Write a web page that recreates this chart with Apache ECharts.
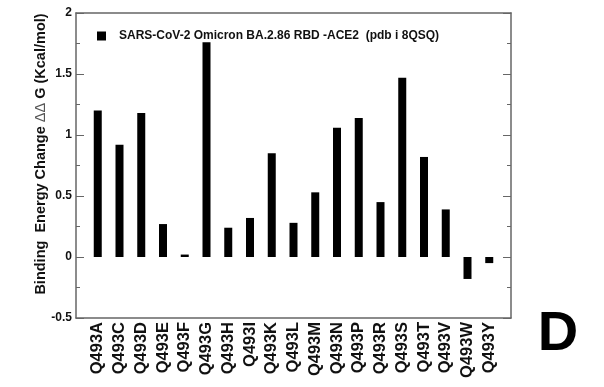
<!DOCTYPE html>
<html><head><meta charset="utf-8">
<script src="https://cdn.jsdelivr.net/npm/echarts@6/dist/echarts.min.js"></script>
<style>html,body{margin:0;padding:0;background:#fff}#c{width:604px;height:387px}</style>
</head><body><div id="c"></div>
<script>
var categories = ['Q493A','Q493C','Q493D','Q493E','Q493F','Q493G','Q493H','Q493I','Q493K','Q493L','Q493M','Q493N','Q493P','Q493R','Q493S','Q493T','Q493V','Q493W','Q493Y'];
var ddG = [1.20,0.92,1.18,0.27,0.02,1.76,0.24,0.32,0.85,0.28,0.53,1.06,1.14,0.45,1.47,0.82,0.39,-0.18,-0.05];
var yTicks = { min: -0.5, max: 2, interval: 0.5 };
var legendName = 'SARS-CoV-2 Omicron BA.2.86 RBD -ACE2  (pdb i 8QSQ)';

var chart = echarts.init(document.getElementById('c'), null, {renderer:'canvas'});
var font = 'Liberation Sans, Arial, sans-serif';
var axisColor = '#666';
chart.setOption({
  animation: false,
  grid: { left: 76, top: 13, right: 93, bottom: 69, containLabel: false },
  legend: {
    left: 92, top: 25, icon: 'rect', itemWidth: 9, itemHeight: 9,
    data: [legendName],
    textStyle: { fontFamily: font, fontWeight: 'bold', fontSize: 12, color: '#111', padding: [0,0,0,8] }
  },
  xAxis: [{
    type: 'value', min: 0, max: categories.length + 1, interval: 1,
    axisLine: { show: true, onZero: false, lineStyle: { color: axisColor, width: 1.5 } },
    axisTick: { show: false },
    splitLine: { show: false },
    axisLabel: {
      rotate: 90, margin: 4, fontFamily: font, fontWeight: 'bold', fontSize: 16.5, color: '#111',
      formatter: function (v) { return categories[v - 1] || ''; }
    }
  }, {
    type: 'value', position: 'top', min: 0, max: categories.length + 1,
    axisLine: { show: true, onZero: false, lineStyle: { color: axisColor, width: 1.5 } },
    axisTick: { show: false }, axisLabel: { show: false }, splitLine: { show: false }
  }],
  yAxis: [{
    type: 'value', min: yTicks.min, max: yTicks.max, interval: yTicks.interval,
    axisLine: { show: true, onZero: false, lineStyle: { color: axisColor, width: 1.5 } },
    axisTick: { show: true, inside: true, length: 8, lineStyle: { color: axisColor } },
    minorTick: { show: true, splitNumber: 2, length: 4, lineStyle: { color: axisColor } },
    splitLine: { show: false },
    axisLabel: { margin: 4, fontFamily: font, fontWeight: 'bold', fontSize: 12, color: '#111' }
  }, {
    type: 'value', position: 'right', min: yTicks.min, max: yTicks.max, interval: yTicks.interval,
    axisLine: { show: true, onZero: false, lineStyle: { color: axisColor, width: 1.5 } },
    axisTick: { show: true, inside: true, length: 8, lineStyle: { color: axisColor } },
    minorTick: { show: true, splitNumber: 2, length: 4, lineStyle: { color: axisColor } },
    splitLine: { show: false }, axisLabel: { show: false }
  }],
  series: [{
    name: legendName, type: 'bar', xAxisIndex: 0, yAxisIndex: 0,
    barWidth: 8, itemStyle: { color: '#000' },
    data: ddG.map(function (v, i) { return [i + 1, v]; })
  }],
  graphic: [{
    type: 'text', x: 41, y: 154, rotation: Math.PI / 2,
    style: {
      text: 'Binding  Energy Change {d|ΔΔ} G (Kcal/mol)',
      font: 'bold 14.5px ' + font, fill: '#111', align: 'center', verticalAlign: 'middle',
      rich: { d: { fontFamily: font, fontWeight: 'normal', fontSize: 14.5, fill: '#555' } }
    }
  }, {
    type: 'text', x: 558, y: 335,
    style: { text: 'D', font: 'bold 56px ' + font, fill: '#000', align: 'center', verticalAlign: 'middle' }
  }]
});
</script></body></html>
